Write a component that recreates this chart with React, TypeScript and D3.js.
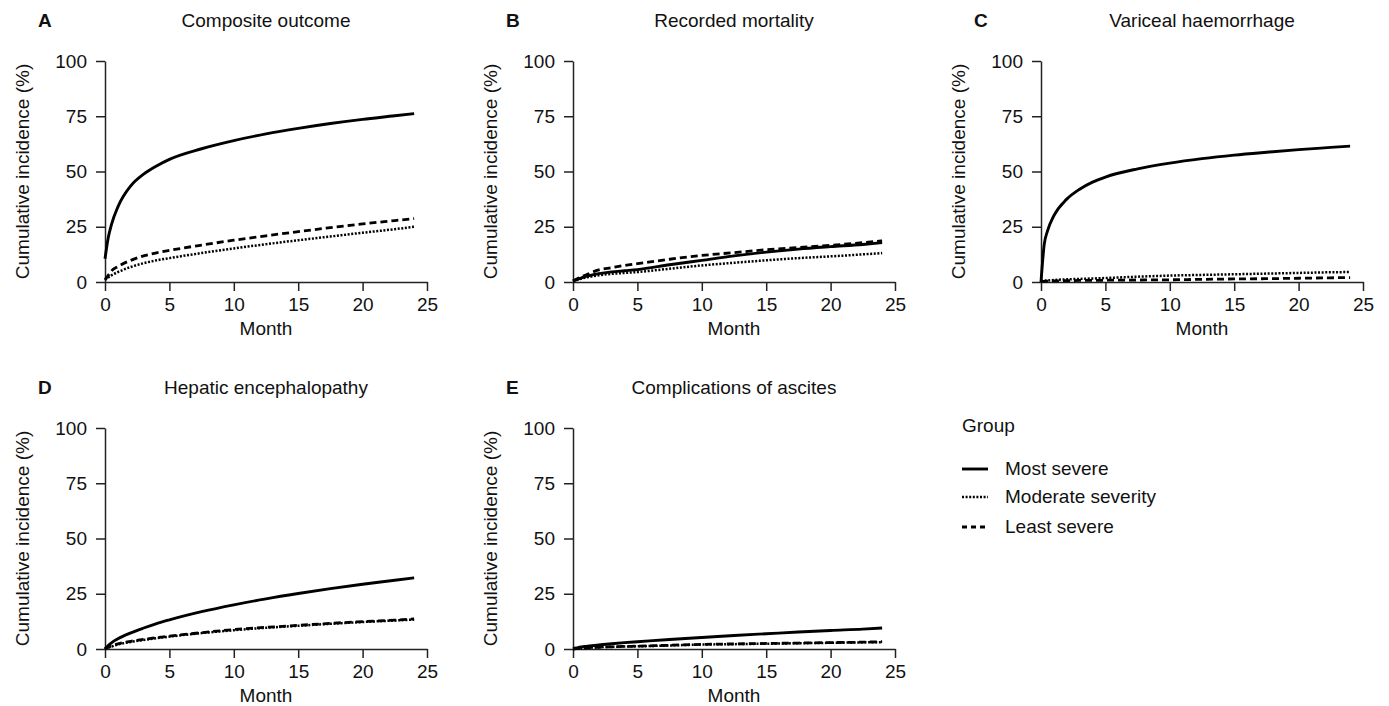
import React, { useEffect, useRef } from "react";
import * as d3 from "d3";

const months = [0, 0.25, 0.5, 1, 2, 3, 4, 5, 7.5, 10, 12.5, 15, 17.5, 20, 22.5, 24];

const groups = ["Most severe", "Moderate severity", "Least severe"];
const xTicks = [0, 5, 10, 15, 20, 25];
const yTicks = [0, 25, 50, 75, 100];

// A: composite outcome
const compositeMost = [10.5, 20, 26, 34, 43.5, 48.8, 52.5, 55.5, 60.3, 64, 67, 69.5, 71.7, 73.6, 75.2, 76.2];
const compositeModerate = [1, 2, 3, 4.5, 6.8, 8.5, 9.8, 10.8, 13.1, 15.2, 17.1, 18.9, 20.6, 22.3, 23.9, 25];
const compositeLeast = [1, 3, 5, 7, 9.8, 11.8, 13.2, 14.3, 16.7, 18.9, 20.9, 22.8, 24.6, 26.3, 27.8, 28.7];

// B: recorded mortality
const mortalityMost = [0.5, 1, 1.5, 2.5, 3.8, 4.6, 5.1, 5.6, 7.8, 9.8, 11.8, 13.5, 14.9, 16, 17, 17.8];
const mortalityModerate = [0.3, 0.8, 1.3, 2, 3, 3.7, 4.1, 4.5, 6, 7.5, 8.7, 9.8, 10.8, 11.6, 12.5, 13.1];
const mortalityLeast = [0.5, 1.2, 2, 3.2, 5.5, 6.5, 7.5, 8.3, 10.3, 12, 13.3, 14.6, 15.6, 16.6, 17.8, 18.6];

// C: variceal haemorrhage
const varicealMost = [0, 17, 23, 30, 37.5, 42, 45.2, 47.5, 51.2, 53.8, 55.8, 57.4, 58.7, 59.9, 60.9, 61.5];
const varicealModerate = [0.5, 0.6, 0.7, 0.9, 1.2, 1.4, 1.6, 1.8, 2.4, 2.9, 3.2, 3.5, 3.8, 4.1, 4.4, 4.5];
const varicealLeast = [0.3, 0.3, 0.4, 0.5, 0.6, 0.7, 0.75, 0.8, 0.9, 1, 1.2, 1.4, 1.5, 1.7, 1.9, 2];

// D: hepatic encephalopathy
const hepaticMost = [0, 1.6, 2.8, 4.6, 7.3, 9.5, 11.5, 13.2, 16.9, 20, 22.7, 25.1, 27.3, 29.3, 31.1, 32.2];
const hepaticModerate = [0, 0.6, 1.1, 2, 3.2, 4.1, 4.9, 5.6, 7.2, 8.5, 9.6, 10.5, 11.4, 12.2, 12.9, 13.3];
const hepaticLeast = [0, 0.8, 1.4, 2.3, 3.5, 4.4, 5.1, 5.8, 7.4, 8.8, 9.8, 10.7, 11.6, 12.4, 13.1, 13.6];

// E: complications of ascites
const ascitesMost = [0.3, 0.5, 0.8, 1.2, 1.8, 2.4, 2.9, 3.3, 4.3, 5.2, 6.1, 6.9, 7.7, 8.4, 9, 9.5];
const ascitesModerate = [0, 0.2, 0.3, 0.5, 0.8, 1, 1.1, 1.2, 1.6, 2, 2.2, 2.4, 2.6, 2.8, 3, 3.1];
const ascitesLeast = [0, 0.2, 0.3, 0.5, 0.8, 1, 1.15, 1.3, 1.7, 2.1, 2.3, 2.5, 2.7, 2.9, 3.1, 3.3];

const FONT = "'Liberation Sans', Arial, Helvetica, sans-serif";
const FS = 19;

// line styles for the three groups: solid, dotted, dashed
const styles = [
  { width: 2.9, dash: null },
  { width: 2.5, dash: "2,1.6" },
  { width: 2.8, dash: "7,4" },
];

type PanelProps = {
  letter: string;
  title: string;
  series: number[][];
  left: number;
  top: number;
};

const W = 322;
const H = 221;

function Panel({ letter, title, series, left, top }: PanelProps) {
  const xRef = useRef<SVGGElement>(null);
  const yRef = useRef<SVGGElement>(null);

  const x = d3.scaleLinear().domain([0, 25]).range([0, W]);
  const y = d3.scaleLinear().domain([0, 100]).range([H, 0]);

  useEffect(() => {
    const xAxis = d3.axisBottom(x).tickValues(xTicks).tickSize(9).tickSizeOuter(0).tickPadding(7);
    const yAxis = d3.axisLeft(y).tickValues(yTicks).tickSize(9).tickSizeOuter(0).tickPadding(9);
    const gx = d3.select(xRef.current!).call(xAxis);
    const gy = d3.select(yRef.current!).call(yAxis);
    [gx, gy].forEach((g) => {
      g.attr("font-family", FONT).attr("font-size", FS);
      g.selectAll("path, line").attr("stroke", "#222").attr("stroke-width", 1.5);
      g.selectAll("text").attr("fill", "#111");
    });
  }, []);

  const lineGen = d3
    .line<number>()
    .x((_, i) => x(months[i]))
    .y((d) => y(d))
    .curve(d3.curveMonotoneX);

  return (
    <g transform={`translate(${left},${top})`}>
      <text x={-67} y={-34} fontFamily={FONT} fontWeight="bold" fontSize={FS} fill="#111">
        {letter}
      </text>
      <text x={W / 2} y={-34} textAnchor="middle" fontFamily={FONT} fontSize={FS} fill="#111">
        {title}
      </text>
      <g ref={yRef} />
      <g ref={xRef} transform={`translate(0,${H})`} />
      <text
        transform={`translate(${-83},${H / 2}) rotate(-90)`}
        textAnchor="middle"
        dy="0.35em"
        fontFamily={FONT}
        fontSize={FS}
        fill="#111"
      >
        Cumulative incidence (%)
      </text>
      <text x={W / 2} y={H + 53} textAnchor="middle" fontFamily={FONT} fontSize={FS} fill="#111">
        Month
      </text>
      {series.map((s, i) => (
        <path
          key={i}
          d={lineGen(s) || ""}
          fill="none"
          stroke="#000"
          strokeWidth={styles[i].width}
          strokeDasharray={styles[i].dash || undefined}
        />
      ))}
    </g>
  );
}

export default function App() {
  const panels = [
    { letter: "A", title: "Composite outcome", series: [compositeMost, compositeModerate, compositeLeast], left: 105, top: 61 },
    { letter: "B", title: "Recorded mortality", series: [mortalityMost, mortalityModerate, mortalityLeast], left: 573, top: 61 },
    { letter: "C", title: "Variceal haemorrhage", series: [varicealMost, varicealModerate, varicealLeast], left: 1041, top: 61 },
    { letter: "D", title: "Hepatic encephalopathy", series: [hepaticMost, hepaticModerate, hepaticLeast], left: 105, top: 428 },
    { letter: "E", title: "Complications of ascites", series: [ascitesMost, ascitesModerate, ascitesLeast], left: 573, top: 428 },
  ];
  const legendY = [469, 497, 527];

  return (
    <svg
      width={1389}
      height={706}
      style={{ position: "absolute", left: 0, top: 0, background: "#fff" }}
    >
      {panels.map((p) => (
        <Panel key={p.letter} {...p} />
      ))}
      <g>
        <text x={962} y={432} fontFamily={FONT} fontSize={FS} fill="#111">
          Group
        </text>
        {groups.map((g, i) => (
          <g key={g}>
            <line
              x1={962}
              x2={988}
              y1={legendY[i]}
              y2={legendY[i]}
              stroke="#000"
              strokeWidth={styles[i].width}
              strokeDasharray={i === 2 ? "5,4" : styles[i].dash || undefined}
            />
            <text x={1005} y={legendY[i] + 6} fontFamily={FONT} fontSize={FS} fill="#111">
              {g}
            </text>
          </g>
        ))}
      </g>
    </svg>
  );
}
